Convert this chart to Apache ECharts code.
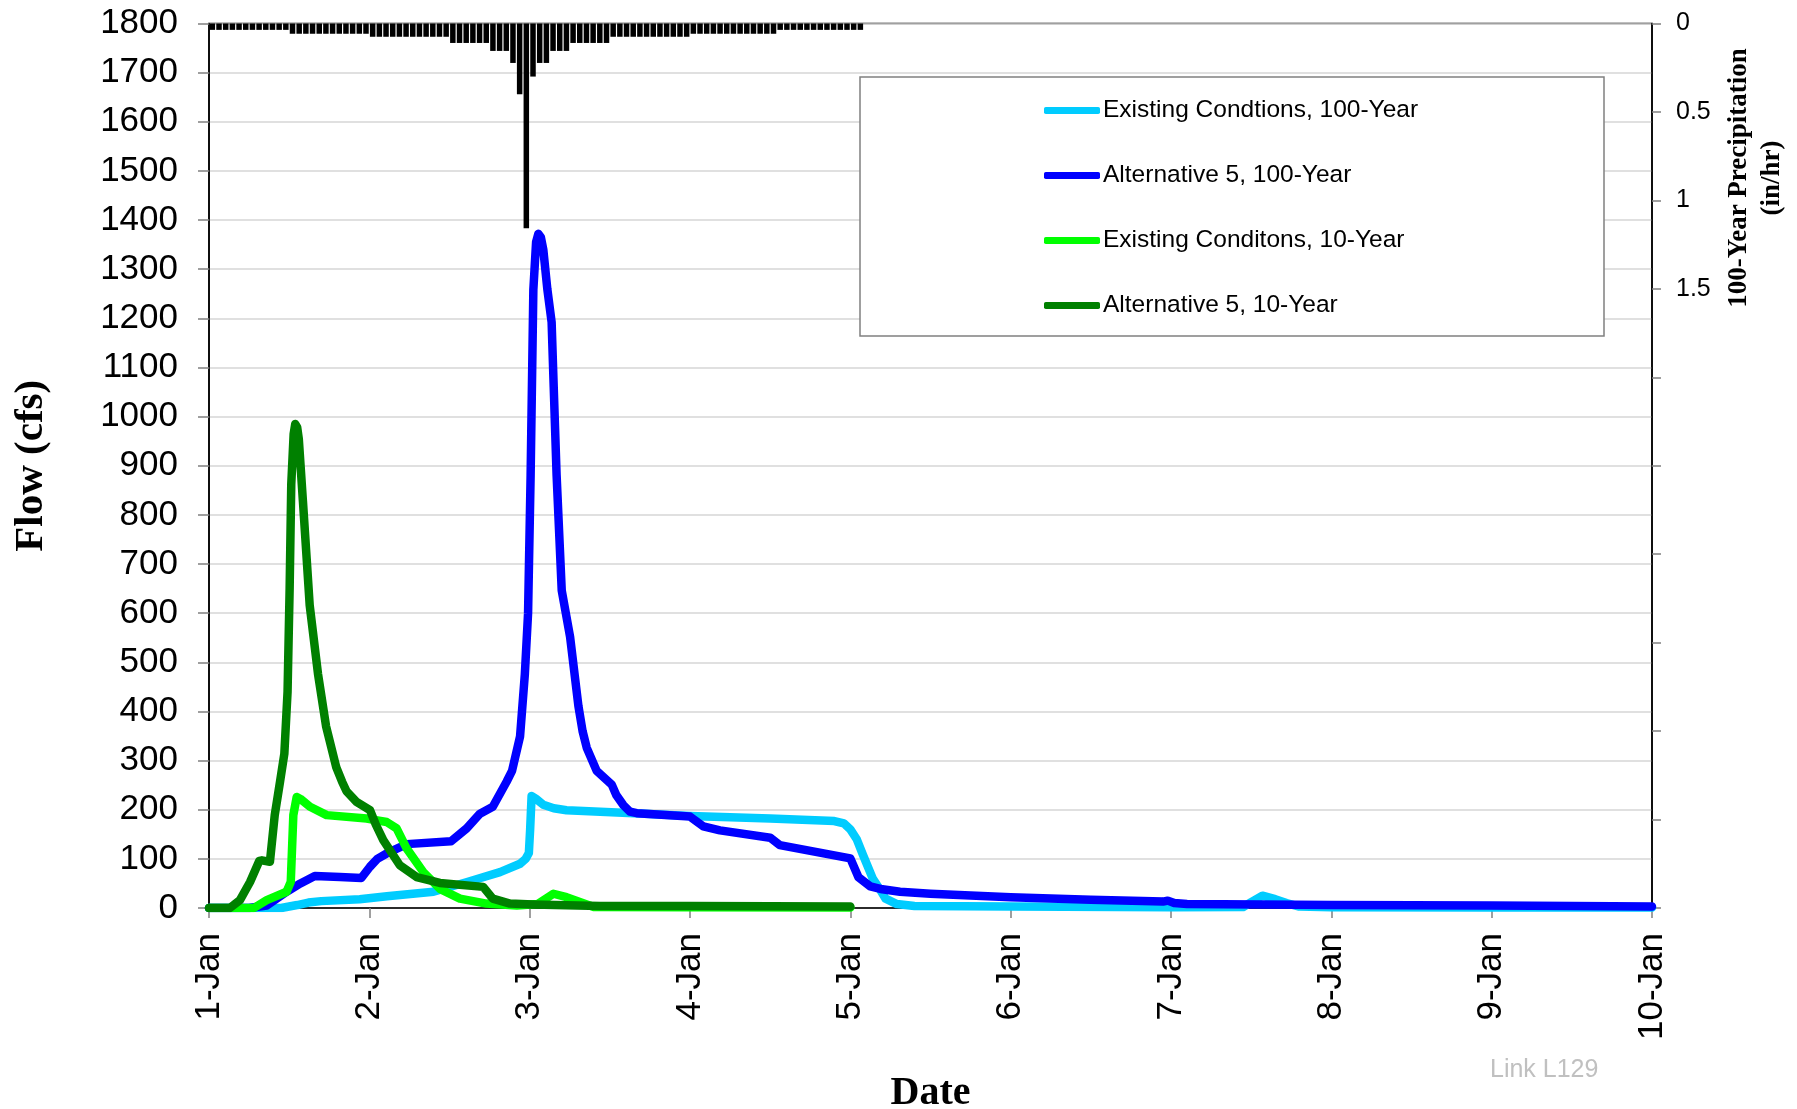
<!DOCTYPE html>
<html><head><meta charset="utf-8">
<script src="https://cdn.jsdelivr.net/npm/echarts@6/dist/echarts.min.js"></script>
<style>html,body{margin:0;padding:0;background:#fff;}#c{width:1797px;height:1109px;}</style>
</head><body><div id="c"></div>
<script>
// X axis: days since 1-Jan 00:00
const dayLabels = ['1-Jan','2-Jan','3-Jan','4-Jan','5-Jan','6-Jan','7-Jan','8-Jan','9-Jan','10-Jan'];
const precipTickLabels = ['0','0.5','1','1.5'];

// [day, cfs]
const existing100 = [[0,0],[0.45,0],[0.55,6],[0.62,11],[0.7,14],[0.94,18],[1.11,24],[1.4,33],[1.61,53],[1.815,73],[1.94,90],[1.975,100],[1.995,112],[2.003,160],[2.012,228],[2.04,222],[2.085,210],[2.15,203],[2.23,199],[2.65,193],[3.0,187],[3.5,182],[3.9,177],[3.96,172],[4.0,160],[4.04,140],[4.08,107],[4.14,60],[4.19,35],[4.22,19],[4.29,8],[4.4,4],[5.0,3],[6.0,1.5],[6.45,2],[6.5,12],[6.57,25],[6.65,18],[6.72,10],[6.8,3],[7.0,1.5],[8.0,1],[9.0,1]];
const alt5_100 = [[0,0],[0.25,0],[0.36,5],[0.484,33],[0.57,50],[0.66,65],[0.817,63],[0.95,61],[1.004,84],[1.05,100],[1.108,111],[1.233,130],[1.51,136],[1.607,162],[1.69,192],[1.77,206],[1.856,257],[1.89,279],[1.94,349],[1.97,476],[1.99,600],[2.006,881],[2.023,1258],[2.04,1355],[2.054,1372],[2.07,1365],[2.085,1340],[2.11,1260],[2.137,1192],[2.15,1060],[2.168,881],[2.2,646],[2.252,552],[2.304,411],[2.33,360],[2.356,326],[2.418,279],[2.512,251],[2.54,230],[2.585,209],[2.626,196],[2.668,193],[3.0,186],[3.083,166],[3.187,158],[3.5,143],[3.56,128],[4.0,101],[4.05,63],[4.124,44],[4.2,38],[4.31,33],[4.5,29],[5.0,22],[5.5,17],[5.95,13],[5.98,15],[6.02,10],[6.1,8],[7.0,6],[8.0,5],[9.0,3]];
const existing10 = [[0,0],[0.28,0],[0.36,16],[0.484,33],[0.51,53],[0.526,189],[0.547,226],[0.57,222],[0.63,206],[0.734,189],[0.983,182],[1.108,175],[1.17,162],[1.233,121],[1.337,73],[1.44,39],[1.565,19],[1.73,9],[1.92,5],[2.05,8],[2.148,29],[2.23,22],[2.4,2],[3.0,1.5],[4.0,1]];
const alt5_10 = [[0,0],[0.13,0],[0.193,16],[0.256,53],[0.314,96],[0.33,97],[0.38,94],[0.41,189],[0.443,257],[0.47,314],[0.49,440],[0.503,651],[0.513,862],[0.528,965],[0.538,985],[0.55,978],[0.56,955],[0.586,827],[0.628,616],[0.68,476],[0.73,370],[0.794,286],[0.83,257],[0.857,238],[0.92,216],[1.004,199],[1.04,170],[1.087,138],[1.19,87],[1.295,63],[1.44,51],[1.71,43],[1.77,19],[1.877,9],[2.02,7],[2.44,4],[3.0,4],[4.0,3]];

// hourly 100-year precipitation (in/hr), hour 0 .. 97
const precip = [
0.036,0.036,0.036,0.036,0.036,0.036,0.036,0.036,0.036,0.036,0.036,0.036,
0.058,0.058,0.058,0.058,0.058,0.058,0.058,0.058,0.058,0.058,0.058,0.058,
0.075,0.075,0.075,0.075,0.075,0.075,0.075,0.075,0.075,0.075,0.075,0.075,
0.11,0.11,0.11,0.11,0.11,0.11,
0.155,0.155,0.155,
0.223,0.40,1.157,0.30,0.223,0.223,
0.155,0.155,0.155,
0.11,0.11,0.11,0.11,0.11,0.11,
0.075,0.075,0.075,0.075,0.075,0.075,0.075,0.075,0.075,0.075,0.075,0.075,
0.058,0.058,0.058,0.058,0.058,0.058,0.058,0.058,0.058,0.058,0.058,0.058,0.058,
0.036,0.036,0.036,0.036,0.036,0.036,0.036,0.036,0.036,0.036,0.036,0.036,0.036
];

const names = ['Existing Condtions, 100-Year','Alternative 5, 100-Year','Existing Conditons, 10-Year','Alternative 5, 10-Year'];
const colors = ['#00CCFF','#0000FF','#00FF00','#008000'];
const flows = [existing100, alt5_100, existing10, alt5_10];

const chart = echarts.init(document.getElementById('c'), null, {renderer:'canvas'});
const SANS = '"Liberation Sans", Arial, sans-serif';
const SERIF = '"Liberation Serif", "Times New Roman", serif';

const series = flows.map((d, i) => ({
  name: names[i], type: 'line', data: d, yAxisIndex: 0, xAxisIndex: 0,
  symbol: 'none', showSymbol: false, smooth: false, z: 3 + i,
  lineStyle: {color: colors[i], width: 8.5, cap: 'round', join: 'round'},
  itemStyle: {color: colors[i]}
}));
series.unshift({
  name: 'precip', type: 'bar', yAxisIndex: 1, xAxisIndex: 0, barWidth: 5.5, z: 2,
  data: precip.map((v, h) => [(h + 0.5) / 24, v]),
  itemStyle: {color: '#000'}
});

chart.setOption({
  animation: false,
  backgroundColor: '#fff',
  grid: {left: 209, top: 23.5, width: 1443, height: 884.5, show: true, borderColor: '#000', borderWidth: 1.5,
    containLabel: false, outerBoundsMode: 'none'},
  xAxis: {
    type: 'value', min: 0, max: 9, interval: 1,
    name: 'Date', nameLocation: 'middle', nameGap: 166,
    nameTextStyle: {fontFamily: SERIF, fontWeight: 'bold', fontSize: 40, color: '#000'},
    axisLine: {show: true, lineStyle: {color: '#000', width: 1.5}},
    axisTick: {show: true, length: 10, lineStyle: {color: '#808080', width: 1.5}},
    axisLabel: {rotate: 90, margin: 25, fontFamily: SANS, fontSize: 35, color: '#000',
      formatter: v => dayLabels[Math.round(v)]},
    splitLine: {show: false}
  },
  yAxis: [{
    type: 'value', min: 0, max: 1800, interval: 100, position: 'left',
    name: 'Flow (cfs)', nameLocation: 'middle', nameGap: 157, nameRotate: 90,
    nameTextStyle: {fontFamily: SERIF, fontWeight: 'bold', fontSize: 41, color: '#000'},
    axisLine: {show: true, lineStyle: {color: '#000', width: 1.5}},
    axisTick: {show: true, length: 11, lineStyle: {color: '#808080', width: 1.5}},
    axisLabel: {margin: 31, fontFamily: SANS, fontSize: 35, color: '#000', formatter: v => String(v)},
    splitLine: {show: true, lineStyle: {color: '#d6d6d6', width: 1.5}}
  }, {
    type: 'value', min: 0, max: 5, interval: 0.5, position: 'right', inverse: true,
    axisLine: {show: true, lineStyle: {color: '#000', width: 1.5}},
    axisTick: {show: true, length: 9, lineStyle: {color: '#808080', width: 1.5}},
    axisLabel: {margin: 24, fontFamily: SANS, fontSize: 25, color: '#000',
      formatter: v => { const s = String(Math.round(v * 10) / 10); return precipTickLabels.indexOf(s) >= 0 ? s : ''; }},
    splitLine: {show: false}
  }],
  legend: {
    data: names, orient: 'vertical', left: 1044, top: 98, padding: 0, z: 10,
    itemWidth: 56, itemHeight: 7, itemGap: 40, icon: 'roundRect',
    textStyle: {fontFamily: SANS, fontSize: 24.5, color: '#000', padding: [0,0,0,-2]}
  },
  graphic: [
    {type: 'rect', z: 5, shape: {x: 860, y: 77, width: 744, height: 259},
      style: {fill: '#fff', stroke: '#808080', lineWidth: 1.5}},
    {type: 'text', z: 6, x: 1756, y: 178, rotation: Math.PI / 2,
      style: {text: '100-Year Precipitation\n(in/hr)', font: 'bold 27px "Liberation Serif"',
        fill: '#000', align: 'center', verticalAlign: 'middle', textAlign: 'center', textVerticalAlign: 'middle', lineHeight: 33}},
    {type: 'text', z: 6, x: 1490, y: 1058,
      style: {text: 'Link L129', font: '25px "Liberation Sans"', fill: '#c0c0c0'}}
  ],
  series: series
});
</script>
</body></html>
